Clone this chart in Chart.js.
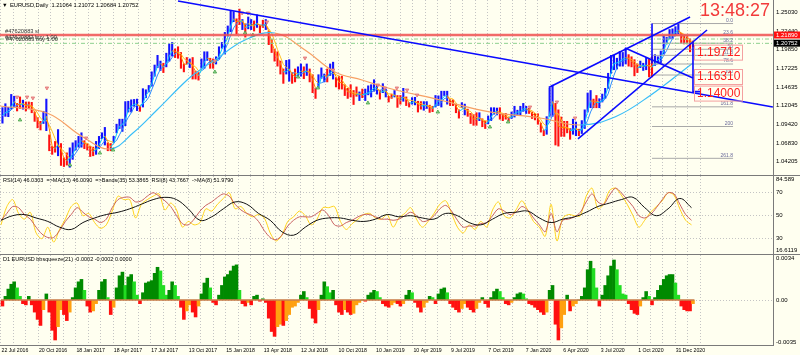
<!DOCTYPE html>
<html>
<head>
<meta charset="utf-8">
<script src="https://cdn.jsdelivr.net/npm/chart.js@4.4.1/dist/chart.umd.min.js"></script>
<style>
  html, body { margin: 0; padding: 0; background: #fffff0; }
  #wrap { position: relative; width: 800px; height: 355px; background: #fffff0; overflow: hidden; }
  .pane { position: absolute; left: 0; width: 800px; }
  .sep { position: absolute; left: 0; width: 800px; height: 1px; background: #7a7a7a; }
</style>
</head>
<body>
<div id="wrap">
  <div class="pane" style="top:0;height:175px"><canvas id="pricePane"></canvas></div>
  <div class="sep" style="top:175px"></div>
  <div class="pane" style="top:176px;height:78px"><canvas id="rsiPane"></canvas></div>
  <div class="sep" style="top:254px"></div>
  <div class="pane" style="top:255px;height:100px"><canvas id="sqzPane"></canvas></div>
</div>
<script>
// ---------- axis data ----------
const dateLabels = ['22 Jul 2016', '20 Oct 2016', '18 Jan 2017', '18 Apr 2017', '17 Jul 2017', '13 Oct 2017',
  '15 Jan 2018', '13 Apr 2018', '12 Jul 2018', '10 Oct 2018', '10 Jan 2019', '10 Apr 2019', '9 Jul 2019',
  '7 Oct 2019', '7 Jan 2020', '6 Apr 2020', '3 Jul 2020', '1 Oct 2020', '31 Dec 2020'];
const priceTicks = [1.25030, 1.22440, 1.19850, 1.17225, 1.14635, 1.12045, 1.09420, 1.06830, 1.04205];
const rsiTicks = [70, 50, 30];
const rsiEdge = ['84.589', '16.6119'];

// ---------- weekly price ranges (EURUSD daily, one entry per week) ----------
const weekLow = [
  1.0955, 1.1050, 1.1045, 1.1150, 1.1185, 1.1125, 1.1160, 1.1150, 1.1125, 1.1160,
  1.1100, 1.0980, 1.0890, 1.0860, 1.0950, 1.0850, 1.0570, 1.0520, 1.0550, 1.0500,
  1.0365, 1.0350, 1.0370, 1.0340, 1.0450, 1.0580, 1.0620, 1.0620, 1.0600, 1.0580,
  1.0490, 1.0500, 1.0520, 1.0600, 1.0740, 1.0650, 1.0570, 1.0570, 1.0680, 1.0820,
  1.0880, 1.0840, 1.0920, 1.1110, 1.1110, 1.1190, 1.1130, 1.1120, 1.1180, 1.1310,
  1.1390, 1.1470, 1.1610, 1.1730, 1.1690, 1.1660, 1.1740, 1.1820, 1.1890, 1.1870,
  1.1860, 1.1720, 1.1670, 1.1780, 1.1730, 1.1570, 1.1570, 1.1555, 1.1720, 1.1720,
  1.1830, 1.1720, 1.1720, 1.1780, 1.1850, 1.2000, 1.1920, 1.2170, 1.2230, 1.2370,
  1.2200, 1.2330, 1.2260, 1.2155, 1.2270, 1.2260, 1.2240, 1.2290, 1.2215, 1.2290,
  1.2260, 1.2050, 1.1940, 1.1820, 1.1750, 1.1640, 1.1510, 1.1640, 1.1540, 1.1510,
  1.1530, 1.1590, 1.1610, 1.1575, 1.1620, 1.1530, 1.1380, 1.1300, 1.1450, 1.1580,
  1.1530, 1.1530, 1.1620, 1.1570, 1.1460, 1.1430, 1.1430, 1.1340, 1.1300, 1.1320,
  1.1215, 1.1330, 1.1270, 1.1310, 1.1270, 1.1350, 1.1320, 1.1400, 1.1360, 1.1290,
  1.1380, 1.1320, 1.1250, 1.1300, 1.1320, 1.1175, 1.1220, 1.1260, 1.1200, 1.1180,
  1.1220, 1.1210, 1.1110, 1.1150, 1.1135, 1.1160, 1.1105, 1.1115, 1.1180, 1.1200,
  1.1180, 1.1340, 1.1220, 1.1200, 1.1200, 1.1100, 1.1025, 1.1170, 1.1070, 1.1050,
  1.0950, 1.0925, 1.0925, 1.0990, 1.0905, 1.0880, 1.0945, 1.0990, 1.1080, 1.1070,
  1.1010, 1.0990, 1.1010, 1.0980, 1.1020, 1.1040, 1.1070, 1.1070, 1.1120, 1.1090,
  1.1090, 1.1020, 1.1000, 1.0940, 1.0830, 1.0780, 1.0800, 1.1050, 1.1050, 1.0650,
  1.0635, 1.0770, 1.0770, 1.0820, 1.0730, 1.0800, 1.0780, 1.0780, 1.0810, 1.0880,
  1.1110, 1.1170, 1.1170, 1.1170, 1.1170, 1.1250, 1.1300, 1.1440, 1.1650, 1.1700,
  1.1710, 1.1750, 1.1750, 1.1780, 1.1750, 1.1740, 1.1615, 1.1660, 1.1730, 1.1690,
  1.1700, 1.1600, 1.1600, 1.1760, 1.1800, 1.1800, 1.1920, 1.2060, 1.2130, 1.2130,
  1.2180, 1.2200, 1.2070, 1.2060, 1.2060, 1.1950, 1.2020
];
const weekHigh = [
  1.1180, 1.1235, 1.1185, 1.1365, 1.1340, 1.1240, 1.1330, 1.1285, 1.1260, 1.1260,
  1.1255, 1.1120, 1.1040, 1.0990, 1.1130, 1.1300, 1.0800, 1.0640, 1.0710, 1.0875,
  1.0680, 1.0480, 1.0550, 1.0620, 1.0690, 1.0720, 1.0780, 1.0830, 1.0720, 1.0680,
  1.0640, 1.0630, 1.0710, 1.0780, 1.0830, 1.0905, 1.0690, 1.0680, 1.0780, 1.0950,
  1.1020, 1.1020, 1.1265, 1.1270, 1.1290, 1.1295, 1.1300, 1.1200, 1.1445, 1.1430,
  1.1490, 1.1680, 1.1775, 1.1910, 1.1830, 1.1800, 1.1940, 1.2070, 1.2090, 1.2000,
  1.2030, 1.1950, 1.1790, 1.1880, 1.1860, 1.1880, 1.1690, 1.1670, 1.1860, 1.1960,
  1.1960, 1.1870, 1.1860, 1.1890, 1.2030, 1.2090, 1.2230, 1.2320, 1.2535, 1.2520,
  1.2420, 1.2555, 1.2410, 1.2350, 1.2445, 1.2410, 1.2390, 1.2475, 1.2330, 1.2400,
  1.2410, 1.2250, 1.2130, 1.1995, 1.1960, 1.1830, 1.1720, 1.1840, 1.1850, 1.1670,
  1.1720, 1.1750, 1.1790, 1.1750, 1.1790, 1.1720, 1.1640, 1.1450, 1.1640, 1.1735,
  1.1650, 1.1720, 1.1790, 1.1815, 1.1600, 1.1620, 1.1620, 1.1500, 1.1450, 1.1500,
  1.1420, 1.1470, 1.1400, 1.1440, 1.1440, 1.1485, 1.1500, 1.1570, 1.1490, 1.1420,
  1.1515, 1.1440, 1.1340, 1.1370, 1.1420, 1.1350, 1.1350, 1.1450, 1.1330, 1.1250,
  1.1320, 1.1325, 1.1270, 1.1265, 1.1265, 1.1265, 1.1215, 1.1200, 1.1350, 1.1345,
  1.1410, 1.1410, 1.1410, 1.1290, 1.1290, 1.1230, 1.1150, 1.1250, 1.1230, 1.1160,
  1.1100, 1.1085, 1.1110, 1.1110, 1.1025, 1.0995, 1.1065, 1.1180, 1.1180, 1.1175,
  1.1180, 1.1090, 1.1100, 1.1040, 1.1120, 1.1200, 1.1145, 1.1200, 1.1240, 1.1200,
  1.1175, 1.1120, 1.1100, 1.1095, 1.0965, 1.0865, 1.1055, 1.1450, 1.1495, 1.1240,
  1.1150, 1.1050, 1.0990, 1.0990, 1.0890, 1.1020, 1.0980, 1.0880, 1.1000, 1.1150,
  1.1385, 1.1420, 1.1300, 1.1350, 1.1305, 1.1370, 1.1450, 1.1660, 1.1910, 1.1915,
  1.1870, 1.1965, 1.1950, 1.2010, 1.1920, 1.1890, 1.1850, 1.1790, 1.1830, 1.1800,
  1.1880, 1.1860, 1.1890, 1.1920, 1.1890, 1.1970, 1.2180, 1.2160, 1.2270, 1.2280,
  1.2310, 1.2350, 1.2220, 1.2190, 1.2190, 1.2140, 1.2110
];

// slow moving average, read at irregular weeks
const slowWeeks = [-0.3, 15.7, 28, 37.3, 45.1, 53.3, 63.6, 68, 73.1, 83.4, 93.6, 103.9, 114.1, 123.4, 132.3, 150, 167, 184.2, 197.9, 210, 222, 236.5];
const slowMA = [1.1199, 1.1101, 1.0767, 1.0600, 1.0822, 1.1143, 1.1562, 1.1701, 1.1841, 1.2119, 1.2217, 1.1980, 1.1673, 1.1562, 1.1450, 1.1283, 1.1116, 1.1032, 1.0934, 1.1050, 1.1350, 1.1800];

// fractal arrows: [week, price]
const arrowsDown = [[5.5, 1.1324], [8.9, 1.1324], [10.9, 1.1311], [15.7, 1.1450], [29.1, 1.0753], [73.1, 1.1827],
  [82.4, 1.2496], [84.4, 1.2496], [90.9, 1.2371], [103.9, 1.1868], [113.5, 1.1701], [128.8, 1.1492], [131.2, 1.1450],
  [135.3, 1.1450], [138.8, 1.1422], [142.2, 1.1352], [180.8, 1.1185], [190.0, 1.1255], [196.2, 1.1032]];
const arrowsUp = [[6.5, 1.1004], [23.6, 1.0376], [33.8, 1.0543], [38.3, 1.0585], [73.1, 1.1673], [83.4, 1.2217],
  [86.1, 1.2189], [101.5, 1.1603], [108.3, 1.1450], [125.4, 1.1241], [149.3, 1.1115], [167.1, 1.0906], [173.3, 1.0976]];

// orders / drawn objects
const slPrice = 1.21890;
const bidPrice = 1.20752;
const orderLines = [1.2133, 1.2073];
const trendLines = [
  [[60.5, 1.2663], [263.8, 1.1185]],
  [[187.2, 1.1457], [235.5, 1.2440]],
  [[197.2, 1.0739], [241.3, 1.2259]],
  [[213.3, 1.2008], [236.5, 1.1589]],
  [[222.5, 1.2349], [222.5, 1.1790]],
  [[236.5, 1.2087], [236.5, 1.1400], [239.0, 1.1400]]
];
const fibLevels = [0, 23.6, 38.2, 50, 61.8, 78.6, 100, 161.8, 200, 261.8];
const fibHigh = 1.2349, fibLow = 1.1631;
const fibFrom = 222.5, fibTo = 250.2;
const targets = [1.19712, 1.16310, 1.14000];

// ---------- RSI pane (fast / mid every 2 weeks, slow every 4 weeks) ----------
const rsiFast = [
  42, 58, 64, 52, 47, 53, 35, 30, 40, 27, 38, 47, 58, 61, 50, 52, 44, 39, 42, 54,
  67, 64, 64, 48, 60, 64, 67, 69, 55, 61, 55, 40, 45, 42, 44, 56, 54, 60, 65, 70,
  56, 58, 52, 49, 51, 48, 35, 28, 33, 45, 49, 54, 50, 42, 47, 57, 57, 58, 45, 38,
  43, 47, 51, 52, 48, 47, 51, 40, 48, 52, 57, 47, 40, 45, 52, 60, 63, 52, 40, 35,
  42, 38, 45, 40, 55, 62, 50, 48, 55, 63, 55, 45, 40, 32, 60, 28, 48, 51, 50, 50,
  67, 74, 56, 60, 72, 74, 68, 60, 50, 40, 46, 53, 58, 63, 70, 68, 56, 46, 42
];
const rsiMid = [
  46, 52, 58, 57, 51, 47, 40, 34, 31, 31, 37, 45, 51, 57, 53, 49, 47, 44, 47, 57,
  64, 66, 66, 62, 63, 67, 70, 67, 63, 58, 50, 43, 42, 47, 54, 59, 62, 66, 69, 67,
  60, 55, 52, 50, 45, 37, 31, 29, 33, 41, 46, 49, 49, 49, 52, 55, 50, 42, 41, 44,
  46, 49, 51, 51, 49, 47, 47, 46, 47, 50, 53, 50, 45, 46, 50, 56, 59, 54, 46, 40,
  41, 41, 43, 44, 50, 56, 54, 51, 53, 58, 55, 48, 42, 36, 52, 36, 46, 47, 49, 53,
  62, 69, 62, 60, 68, 74, 70, 64, 58, 50, 48, 51, 57, 64, 70, 69, 60, 51, 46
];
const rsiSlow = [
  46, 50, 51, 48, 45, 40, 38, 44, 48, 51, 53, 56, 60, 64, 66, 64, 56, 46, 49, 56,
  62, 60, 52, 46, 36, 33, 40, 46, 48, 48, 46, 45, 47, 51, 49, 50, 48, 47, 52, 50,
  44, 42, 47, 52, 53, 54, 48, 44, 47, 49, 53, 58, 61, 64, 66, 57, 50, 56, 65, 57
];

// ---------- bbsqueeze histogram, one value per week ----------
const squeeze = [
  -0.0005, 0.0003, 0.0009, 0.0013, 0.0015, 0.0010, 0.0003, -0.0003, -0.0004, 0.0003,
  -0.0004, -0.0010, -0.0016, -0.0021, -0.0008, 0.0005, -0.0010, -0.0025, -0.0033, -0.0022,
  -0.0008, -0.0012, -0.0017, -0.0010, 0.0002, 0.0010, 0.0015, 0.0017, 0.0008, -0.0005,
  -0.0010, -0.0009, -0.0003, 0.0008, 0.0015, 0.0017, 0.0002, -0.0012, -0.0006, 0.0010,
  0.0020, 0.0023, 0.0012, 0.0019, 0.0021, 0.0015, 0.0004, -0.0003, 0.0006, 0.0014,
  0.0015, 0.0016, 0.0022, 0.0027, 0.0024, 0.0012, 0.0004, 0.0008, 0.0015, 0.0012,
  0.0003, -0.0006, -0.0016, -0.0009, -0.0004, -0.0010, -0.0014, -0.0005, 0.0005, 0.0014,
  0.0018, 0.0010, -0.0002, -0.0004, 0.0004, 0.0012, 0.0019, 0.0021, 0.0024, 0.0028,
  0.0029, 0.0008, -0.0003, -0.0005, -0.0002, -0.0004, 0.0003, 0.0004, -0.0001, 0.0001,
  -0.0002, -0.0015, -0.0026, -0.0030, -0.0022, -0.0020, -0.0021, -0.0017, -0.0012, -0.0006,
  -0.0005, -0.0002, 0.0004, 0.0007, 0.0002, -0.0007, -0.0015, -0.0019, -0.0008, 0.0004,
  0.0015, 0.0011, 0.0006, 0.0008, -0.0004, -0.0010, -0.0012, -0.0008, -0.0010, -0.0012,
  -0.0011, -0.0004, -0.0002, 0.0000, -0.0001, 0.0004, 0.0006, 0.0008, 0.0007, 0.0002,
  -0.0003, -0.0005, -0.0006, -0.0004, -0.0002, -0.0003, -0.0005, -0.0003, 0.0004, 0.0008,
  0.0006, -0.0002, -0.0006, -0.0010, -0.0006, -0.0002, 0.0003, 0.0002, -0.0003, 0.0005,
  0.0009, 0.0010, 0.0006, -0.0003, -0.0006, -0.0008, -0.0010, -0.0007, -0.0003, -0.0006,
  -0.0008, -0.0010, -0.0007, -0.0002, 0.0002, -0.0003, -0.0006, 0.0002, 0.0007, 0.0009,
  0.0007, 0.0002, -0.0003, -0.0004, -0.0002, 0.0002, 0.0005, 0.0006, 0.0005, 0.0001,
  -0.0003, -0.0004, -0.0006, -0.0008, -0.0010, -0.0012, -0.0010, 0.0008, 0.0012, -0.0020,
  -0.0033, -0.0023, -0.0012, 0.0004, -0.0009, -0.0005, -0.0003, 0.0000, 0.0003, 0.0010,
  0.0025, 0.0032, 0.0026, 0.0010, -0.0005, 0.0004, 0.0012, 0.0020, 0.0028, 0.0033,
  0.0025, 0.0012, 0.0005, 0.0004, -0.0003, -0.0008, -0.0011, -0.0012, -0.0005, 0.0002,
  0.0007, 0.0003, -0.0004, 0.0002, 0.0008, 0.0012, 0.0017, 0.0020, 0.0021, 0.0021,
  0.0014, 0.0004, -0.0005, -0.0008, -0.0009, -0.0009, -0.0003
];

// ---------- layout constants ----------
const FONT = '"Liberation Sans", Arial, sans-serif';
const X_MIN = -0.34, X_MAX = 263.85;
const gridWeeks = [];
for (let i = 0; i <= 56; i++) gridWeeks.push(i * 12.8 / 3);
const GRID = '#c4c4c4';

function xAxis(height) {
  return {
    type: 'linear', min: X_MIN, max: X_MAX, offset: false,
    afterBuildTicks: s => { s.ticks = gridWeeks.map(v => ({ value: v })); },
    afterFit: s => { s.height = height; s.paddingLeft = 0; s.paddingRight = 0; },
    grid: { color: GRID, lineWidth: 1, drawTicks: false, offset: false },
    border: { display: false, dash: [1, 2] },
    ticks: { display: false }
  };
}
function yAxis(min, max, ticks, showGrid) {
  return {
    position: 'right', min: min, max: max,
    afterBuildTicks: s => { s.ticks = ticks.map(v => ({ value: v })); },
    afterFit: s => { s.width = 27; s.paddingTop = 0; s.paddingBottom = 0; },
    grid: { display: showGrid, color: GRID, drawTicks: false },
    border: { display: true, color: '#7a7a7a', width: 1, dash: [1, 2] },
    ticks: { display: false }
  };
}
const baseOpts = {
  responsive: true, maintainAspectRatio: false, animation: false,
  layout: { padding: 0, autoPadding: false },
  plugins: { legend: { display: false }, tooltip: { enabled: false } }
};

// ---------- price pane ----------
const mid = weekHigh.map((h, i) => (h + weekLow[i]) / 2);
const candleColors = mid.map((m, i) => (m >= mid[Math.max(0, i - 2)] ? '#1212ff' : '#ff1010'));
function avg(arr, n) {
  return arr.map((_, i) => {
    const s = arr.slice(Math.max(0, i - n + 1), i + 1);
    return s.reduce((a, b) => a + b, 0) / s.length;
  });
}
const maFast = avg(mid, 2), maMid = avg(mid, 4);
const slopeColor = (up, down) => ({ borderColor: c => (c.p1.parsed.y >= c.p0.parsed.y ? up : down) });

const priceDatasets = [
  {
    type: 'bar', data: weekHigh.map((h, i) => ({ x: i + 0.5, y: [weekLow[i], h] })),
    backgroundColor: candleColors, barPercentage: 0.72, categoryPercentage: 1, grouped: false, order: 5
  },
  { type: 'line', data: maMid.map((v, i) => ({ x: i + 0.5, y: v })), borderWidth: 1, pointRadius: 0, segment: slopeColor('#2a8cff', '#ffc020'), order: 4 },
  { type: 'line', data: maFast.map((v, i) => ({ x: i + 0.5, y: v })), borderWidth: 1, pointRadius: 0, segment: slopeColor('#00c8ff', '#ff8c00'), order: 3 },
  { type: 'line', data: slowWeeks.map((w, i) => ({ x: w, y: slowMA[i] })), borderWidth: 1.2, pointRadius: 0, tension: 0.4, segment: slopeColor('#38bdf8', '#f7a064'), order: 2 },
  { type: 'line', data: [{ x: X_MIN, y: slPrice }, { x: X_MAX, y: slPrice }], borderColor: 'rgba(240,80,80,0.85)', borderWidth: 2.5, pointRadius: 0, order: 1 },
  { type: 'scatter', data: arrowsDown.map(p => ({ x: p[0], y: p[1] })), pointStyle: 'triangle', rotation: 180, pointRadius: 2, backgroundColor: '#f2a0a0', borderColor: '#e07070', borderWidth: 0.8, order: 1 },
  { type: 'scatter', data: arrowsUp.map(p => ({ x: p[0], y: p[1] })), pointStyle: 'triangle', pointRadius: 2, backgroundColor: '#9ad89a', borderColor: '#40a040', borderWidth: 0.8, order: 1 }
];
orderLines.forEach(p => priceDatasets.push({
  type: 'line', data: [{ x: X_MIN, y: p }, { x: X_MAX, y: p }], borderColor: '#8fd08f', borderWidth: 1, borderDash: [4, 2, 1, 2], pointRadius: 0, order: 1
}));
fibLevels.forEach(l => priceDatasets.push({
  type: 'line', data: [{ x: fibFrom, y: fibHigh - (fibHigh - fibLow) * l / 100 }, { x: fibTo, y: fibHigh - (fibHigh - fibLow) * l / 100 }],
  borderColor: '#a8a8a8', borderWidth: 1, pointRadius: 0, order: 1
}));
trendLines.forEach(t => priceDatasets.push({
  type: 'line', data: t.map(p => ({ x: p[0], y: p[1] })), borderColor: '#0a0aff', borderWidth: 1.6, pointRadius: 0, order: 0
}));

const pricePlugin = {
  id: 'priceText',
  afterDraw(chart) {
    const { ctx, chartArea: a, scales: { x, y } } = chart;
    ctx.save();
    ctx.textBaseline = 'middle';
    ctx.textAlign = 'left';
    ctx.font = '6px ' + FONT;
    ctx.fillStyle = '#000';
    priceTicks.forEach(v => ctx.fillText(v.toFixed(5), a.right + 3, y.getPixelForValue(v)));
    [[slPrice, '#ff1010'], [bidPrice, '#000']].forEach(([p, c]) => {
      const py = y.getPixelForValue(p);
      ctx.fillStyle = c;
      ctx.fillRect(a.right + 1, py - 3.5, 26, 7);
      ctx.fillStyle = '#fff';
      ctx.fillText(p.toFixed(5), a.right + 3, py);
    });
    // title and order labels
    ctx.fillStyle = '#000';
    ctx.font = '5.7px ' + FONT;
    ctx.fillText('\u25BC', 2, 5);
    ctx.fillText('EURUSD,Daily  1.21064 1.21072 1.20684 1.20752', 10, 5);
    ctx.fillStyle = '#333';
    ctx.fillText('#47620883 sl', 5, 31);
    ctx.fillText('#47620882 buy 1.00', 5, 37.5);
    ctx.fillText('#47620883 buy 1.00', 6, 39);
    // fibonacci labels
    ctx.font = '5px ' + FONT;
    ctx.fillStyle = '#6a6a9a';
    ctx.textAlign = 'right';
    ctx.textBaseline = 'bottom';
    fibLevels.forEach(l => {
      const py = y.getPixelForValue(fibHigh - (fibHigh - fibLow) * l / 100);
      ctx.fillText(l === 0 ? '0.0' : String(l), x.getPixelForValue(fibTo), py - 0.5);
    });
    // target prices
    ctx.textAlign = 'left';
    ctx.textBaseline = 'middle';
    ctx.font = '12px ' + FONT;
    targets.forEach(p => {
      const py = y.getPixelForValue(p) + 2;
      ctx.strokeStyle = '#f4a0a0';
      ctx.lineWidth = 1;
      ctx.strokeRect(694.5, py - 7.5, 48, 15);
      ctx.fillStyle = '#ff2020';
      ctx.fillText(p.toFixed(5), 697, py);
    });
    // clock
    ctx.font = '18px ' + FONT;
    ctx.fillStyle = '#f23a3a';
    ctx.fillText('13:48:27', 700, 11);
    ctx.restore();
  }
};

new Chart(document.getElementById('pricePane'), {
  type: 'bar',
  data: { datasets: priceDatasets },
  options: Object.assign({}, baseOpts, {
    scales: { x: xAxis(0), y: yAxis(1.02366, 1.26773, priceTicks, false) }
  }),
  plugins: [pricePlugin]
});

// ---------- RSI pane ----------
const rsiPlugin = {
  id: 'rsiText',
  afterDraw(chart) {
    const { ctx, chartArea: a, scales: { y } } = chart;
    ctx.save();
    ctx.font = '5.5px ' + FONT;
    ctx.fillStyle = '#000';
    ctx.textBaseline = 'middle';
    ctx.fillText('RSI(14) 46.0303  =>MA(13) 46.0090  =>Bands(35) 53.3865  RSI(8) 43.7667  ->MA(8) 51.9790', 3, 4.5);
    ctx.font = '6px ' + FONT;
    rsiTicks.forEach(v => ctx.fillText(String(v), a.right + 3, y.getPixelForValue(v)));
    ctx.fillText(rsiEdge[0], a.right + 3, a.top + 3.5);
    ctx.fillText(rsiEdge[1], a.right + 3, a.bottom - 3.5);
    ctx.restore();
  }
};
new Chart(document.getElementById('rsiPane'), {
  type: 'line',
  data: {
    datasets: [
      { data: rsiSlow.map((v, i) => ({ x: i * 4, y: v })), borderColor: '#111', borderWidth: 1, pointRadius: 0, tension: 0.4 },
      { data: rsiMid.map((v, i) => ({ x: i * 2, y: v })), borderColor: '#c86060', borderWidth: 1, pointRadius: 0, tension: 0.3 },
      { data: rsiFast.map((v, i) => ({ x: i * 2, y: v })), borderColor: '#ffd21a', borderWidth: 1, pointRadius: 0, tension: 0.3 }
    ]
  },
  options: Object.assign({}, baseOpts, {
    scales: { x: xAxis(0), y: yAxis(16.6119, 84.589, rsiTicks, true) }
  }),
  plugins: [rsiPlugin]
});

// ---------- bbsqueeze pane ----------
const sqzColors = squeeze.map((v, i) => {
  const p = i ? squeeze[i - 1] : 0;
  if (v >= 0) return v >= p ? '#008a00' : '#22dd22';
  return v <= p ? '#ff1010' : '#ffa010';
});
const sqzPlugin = {
  id: 'sqzText',
  afterDraw(chart) {
    const { ctx, chartArea: a, scales: { x, y } } = chart;
    ctx.save();
    ctx.font = '5.5px ' + FONT;
    ctx.fillStyle = '#000';
    ctx.textBaseline = 'middle';
    ctx.fillText('D1 EURUSD bbsqueeze(21) -0.0002 -0.0002 0.0000', 3, 4.5);
    ctx.font = '6px ' + FONT;
    ctx.fillText('0.0034', a.right + 3, y.getPixelForValue(0.0034));
    ctx.fillText('0.00', a.right + 3, y.getPixelForValue(0));
    ctx.fillText('-0.0035', a.right + 3, y.getPixelForValue(-0.0035));
    // date labels, left-aligned on every third grid line
    ctx.font = '5.2px ' + FONT;
    ctx.textBaseline = 'top';
    dateLabels.forEach((d, i) => ctx.fillText(d, x.getPixelForValue(gridWeeks[i * 3]) + 0.5, a.bottom + 2.5));
    ctx.restore();
  }
};
new Chart(document.getElementById('sqzPane'), {
  type: 'bar',
  data: {
    datasets: [
      { type: 'line', data: [{ x: 0, y: 0 }, { x: weekHigh.length, y: 0 }], borderColor: '#c87a44', borderWidth: 1.5, pointRadius: 0, order: 0 },
      { data: squeeze.map((v, i) => ({ x: i + 0.5, y: v })), backgroundColor: sqzColors, barPercentage: 1, categoryPercentage: 1, order: 1 }
    ]
  },
  options: Object.assign({}, baseOpts, {
    scales: {
      x: Object.assign(xAxis(10), { border: { display: true, color: '#7a7a7a', dash: [1, 2] } }),
      y: yAxis(-0.003714, 0.003714, [0], true)
    }
  }),
  plugins: [sqzPlugin]
});
</script>
</body>
</html>
